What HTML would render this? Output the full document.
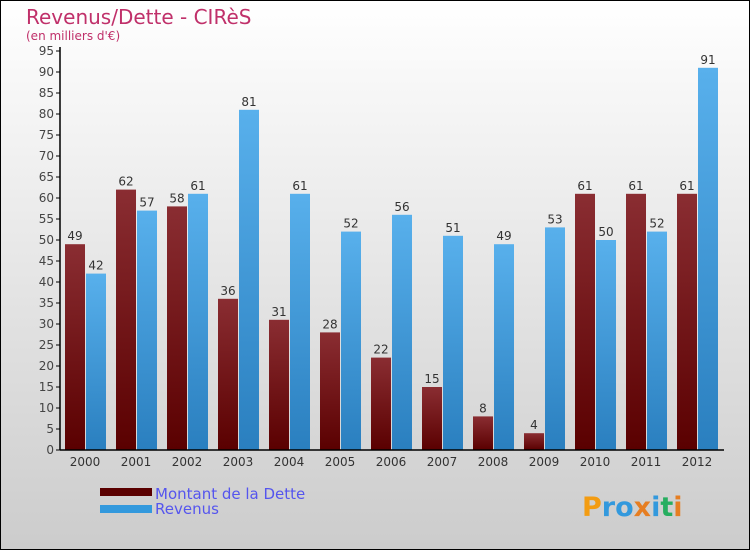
<!DOCTYPE html>
<html><head><meta charset="utf-8"><style>
body{margin:0;width:750px;height:550px;overflow:hidden}
svg{display:block;font-family:"DejaVu Sans","Liberation Sans",sans-serif}
</style></head><body>
<svg id="c" width="750" height="550">
<defs>
<linearGradient id="bg" x1="0" y1="0" x2="0" y2="1"><stop offset="0" stop-color="#ffffff"/><stop offset="1" stop-color="#cccccc"/></linearGradient>
<linearGradient id="gd" x1="0" y1="0" x2="0" y2="1"><stop offset="0" stop-color="#8a2d32"/><stop offset="1" stop-color="#5a0000"/></linearGradient>
<linearGradient id="gr" x1="0" y1="0" x2="0" y2="1"><stop offset="0" stop-color="#58b0ec"/><stop offset="1" stop-color="#2a7fbf"/></linearGradient>
</defs>
<rect x="0.5" y="0.5" width="749" height="549" fill="url(#bg)" stroke="#000"/>
<text x="26" y="24" font-size="20" fill="#c0306a">Revenus/Dette - CIRèS</text>
<text x="26" y="40" font-size="12" fill="#c0306a">(en milliers d'€)</text>
<g id="plot"></g>
<rect x="100" y="488" width="52" height="8" fill="#5a0000"/>
<rect x="100" y="505" width="52" height="8" fill="#3399dd"/>
<text x="155" y="499" font-size="15" fill="#5555ee">Montant de la Dette</text>
<text x="155" y="514" font-size="15" fill="#5555ee">Revenus</text>
<text x="582" y="516" font-size="27" font-weight="bold" fill="#3399dd"><tspan fill="#f39c12">P</tspan><tspan fill="#3399dd">ro</tspan><tspan fill="#e67e22">x</tspan><tspan fill="#3399dd">i</tspan><tspan fill="#27ae60">t</tspan><tspan fill="#e67e22">i</tspan></text>
</svg>
<script>
const years=["2000","2001","2002","2003","2004","2005","2006","2007","2008","2009","2010","2011","2012"];
const dette=[49,62,58,36,31,28,22,15,8,4,61,61,61];
const revenus=[42,57,61,81,61,52,56,51,49,53,50,52,91];
const yTicks=[0,5,10,15,20,25,30,35,40,45,50,55,60,65,70,75,80,85,90,95];
const ns="http://www.w3.org/2000/svg";
const g=document.getElementById('plot');
const y0=450,yTop=51,yMax=95,x0=60,step=51;
const Y=v=>y0-(v/yMax)*(y0-yTop);
function mk(t,a,txt){const e=document.createElementNS(ns,t);for(const k in a)e.setAttribute(k,a[k]);if(txt!==undefined)e.textContent=txt;g.appendChild(e);return e;}
yTicks.forEach(v=>{
 const l=mk('line',{x1:x0-4,x2:x0,y1:Y(v),y2:Y(v),stroke:'#000'});
 
 
 const t=mk('text',{x:x0-6,y:Y(v)+4,'font-size':12,fill:'#444','text-anchor':'end'},v);
 
 
});
years.forEach((yr,i)=>{
 const bx=x0+5+step*i;
 const d=mk('rect',{x:bx,y:Y(dette[i]),width:20,height:y0-Y(dette[i]),fill:'url(#gd)'});
 
 
 const r=mk('rect',{x:bx+21,y:Y(revenus[i]),width:20,height:y0-Y(revenus[i]),fill:'url(#gr)'});
 
 
 const dl=mk('text',{x:bx+10,y:Y(dette[i])-4,'font-size':12,fill:'#333','text-anchor':'middle'},dette[i]);
 
 
 const rl=mk('text',{x:bx+31,y:Y(revenus[i])-4,'font-size':12,fill:'#333','text-anchor':'middle'},revenus[i]);
 
 
 const xl=mk('text',{x:bx+20,y:466,'font-size':12,fill:'#333','text-anchor':'middle'},yr);
 
 
});
const ya=mk('line',{x1:x0,x2:x0,y1:yTop-4,y2:y0,stroke:'#000','stroke-width':1.5});


const xa=mk('line',{x1:x0,x2:724,y1:y0,y2:y0,stroke:'#000','stroke-width':1.5});


</script>
</body></html>
